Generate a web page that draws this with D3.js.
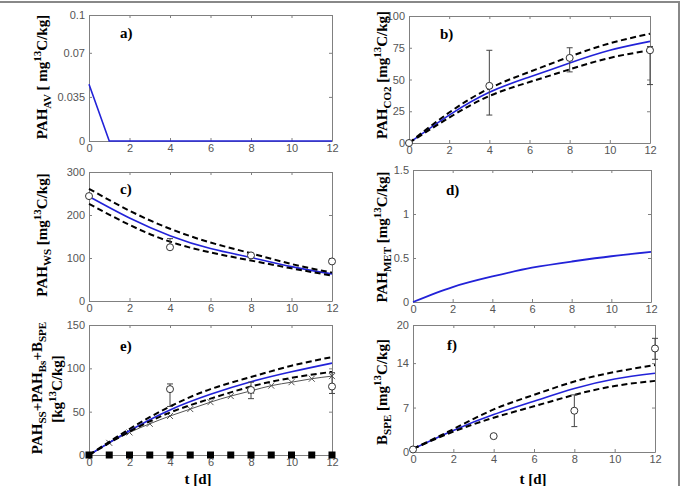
<!DOCTYPE html>
<html>
<head>
<meta charset="utf-8">
<script src="https://cdn.jsdelivr.net/npm/d3@7"></script>
<style>
  body { margin: 0; background: #fff; }
  svg { display: block; }
</style>
</head>
<body>
<script>
// model time grid (days)
const tModel = [0, 2, 4, 6, 8, 10, 12];
const tAll = [0, 1, 2, 3, 4, 5, 6, 7, 8, 9, 10, 11, 12];
const xTicks = [0, 2, 4, 6, 8, 10, 12];

// a) PAH_AV
const avT = [0, 1, 12];
const avFit = [0.045, 0, 0];

// b) PAH_CO2
const co2Fit = [0, 22, 40, 52, 63, 73, 80];
const co2Hi = [0, 24, 43, 56, 68, 78.5, 86];
const co2Lo = [0, 20, 37, 48, 58, 67, 73];
const co2ObsT = [0, 4, 8, 12];
const co2Obs = [0, 45, 67, 73];
const co2ObsLo = [0, 22, 56, 46];
const co2ObsHi = [0, 73, 75, 76];

// c) PAH_WS
const wsFit = [243, 193, 152, 122, 101, 80, 63];
const wsHi = [261, 210, 168, 136, 111, 86, 66];
const wsLo = [226, 177, 138, 113, 94, 76, 59];
const wsObsT = [0, 4, 8, 12];
const wsObs = [244, 125, 106, 92];
const wsObsLo = [244, 125, 106, 92];
const wsObsHi = [244, 145, 106, 92];

// d) PAH_MET
const metFit = [0, 0.17, 0.29, 0.39, 0.46, 0.52, 0.57];

// e) PAH_SS + PAH_Bs + B_SPE
const eFit = [0, 28, 52, 70, 84.5, 96, 106];
const eHi = [0, 30, 56, 76, 90, 103, 113];
const eLo = [0, 27, 49, 65, 79, 89, 96];
const eSim = [0, 14, 26, 36, 45, 53, 61, 68, 74, 80, 84, 88, 91];
const eObsT = [4, 8, 12];
const eObs = [76, 75, 79];
const eObsLo = [56, 65, 71];
const eObsHi = [82, 84, 95];
const eZero = [0, 0, 0, 0, 0, 0, 0, 0, 0, 0, 0, 0, 0];

// f) B_SPE
const fFit = [0.5, 3.4, 5.9, 8.0, 10.0, 11.5, 12.4];
const fHi = [0.5, 3.6, 6.7, 9.0, 11.1, 12.6, 13.7];
const fLo = [0.5, 3.2, 5.4, 7.2, 9.0, 10.4, 11.2];
const fObsT = [0, 4, 8, 12];
const fObs = [0.4, 2.5, 6.5, 16.3];
const fObsLo = [0.4, 2.5, 4.0, 14.6];
const fObsHi = [0.4, 2.5, 9.0, 17.9];

const W = 681, H = 486;
const BLUE = '#2222d8', AX = '#808080';
const serif = "'Liberation Serif', 'Times New Roman', serif";
const sans = "'Liberation Sans', Arial, sans-serif";

const svg = d3.select('body').append('svg').attr('width', W).attr('height', H);

// outer frame (top + right edge visible)
svg.append('line').attr('x1', 0).attr('x2', 680).attr('y1', 2).attr('y2', 2)
  .attr('stroke', '#888').attr('stroke-width', 2);
svg.append('line').attr('x1', 679).attr('x2', 679).attr('y1', 2).attr('y2', H)
  .attr('stroke', '#888').attr('stroke-width', 2);

function panel(box, yDomain, yTicks) {
  const x = d3.scaleLinear().domain([0, 12]).range([box.l, box.r]);
  const y = d3.scaleLinear().domain(yDomain).range([box.b, box.t]);
  const g = svg.append('g');

  const style = sel => {
    sel.selectAll('path').attr('stroke', AX);
    sel.selectAll('line').attr('stroke', AX);
    sel.selectAll('text').attr('fill', '#555').attr('font-family', sans).attr('font-size', 11);
  };
  g.append('g').attr('transform', `translate(0,${box.b})`)
    .call(d3.axisBottom(x).tickValues(xTicks).tickSizeInner(-3).tickSizeOuter(0).tickPadding(3))
    .call(style);
  g.append('g').attr('transform', `translate(0,${box.t})`)
    .call(d3.axisTop(x).tickValues(xTicks).tickSizeInner(-3).tickSizeOuter(0).tickFormat(''))
    .call(style);
  g.append('g').attr('transform', `translate(${box.l},0)`)
    .call(d3.axisLeft(y).tickValues(yTicks).tickSizeInner(-3).tickSizeOuter(0).tickPadding(4)
      .tickFormat(d => String(d)))
    .call(style);
  g.append('g').attr('transform', `translate(${box.r},0)`)
    .call(d3.axisRight(y).tickValues(yTicks).tickSizeInner(-3).tickSizeOuter(0).tickFormat(''))
    .call(style);
  return { g, x, y };
}

function curve(p, ts, vs, opts) {
  const line = d3.line().x(d => p.x(d[0])).y(d => p.y(d[1]))
    .curve(opts.straight ? d3.curveLinear : d3.curveNatural);
  p.g.append('path').datum(ts.map((t, i) => [t, vs[i]]))
    .attr('d', line).attr('fill', 'none')
    .attr('stroke', opts.color).attr('stroke-width', opts.width)
    .attr('stroke-dasharray', opts.dash || null);
}

function fitLines(p, fit, hi, lo) {
  curve(p, tModel, fit, { color: BLUE, width: 1.6 });
  curve(p, tModel, hi, { color: '#000', width: 2, dash: '6,3.5' });
  curve(p, tModel, lo, { color: '#000', width: 2, dash: '6,3.5' });
}

function obs(p, ts, vs, lo, hi) {
  const d = ts.map((t, i) => ({ t, v: vs[i], lo: lo[i], hi: hi[i] }));
  const eb = p.g.append('g').attr('stroke', '#444').attr('stroke-width', 1);
  d.filter(e => e.hi !== e.lo).forEach(e => {
    const cx = p.x(e.t);
    eb.append('line').attr('x1', cx).attr('x2', cx).attr('y1', p.y(e.lo)).attr('y2', p.y(e.hi));
    eb.append('line').attr('x1', cx - 3).attr('x2', cx + 3).attr('y1', p.y(e.lo)).attr('y2', p.y(e.lo));
    eb.append('line').attr('x1', cx - 3).attr('x2', cx + 3).attr('y1', p.y(e.hi)).attr('y2', p.y(e.hi));
  });
  p.g.append('g').selectAll('circle').data(d).join('circle')
    .attr('cx', e => p.x(e.t)).attr('cy', e => p.y(e.v)).attr('r', 3.5)
    .attr('fill', 'white').attr('stroke', '#333').attr('stroke-width', 1);
}

function tag(p, txt, x, y) {
  p.g.append('text').attr('x', x).attr('y', y).text(txt)
    .attr('font-family', serif).attr('font-weight', 'bold').attr('font-size', 15);
}

// parts: [text, 'n'|'sub'|'sup']
function ylabel(cx, cy, parts, size) {
  const t = svg.append('text')
    .attr('transform', `translate(${cx},${cy}) rotate(-90)`)
    .attr('text-anchor', 'middle')
    .attr('font-family', serif).attr('font-weight', 'bold').attr('font-size', size || 15);
  let shift = 0;
  parts.forEach(([s, k]) => {
    const target = k === 'sub' ? 4 : k === 'sup' ? -6 : 0;
    t.append('tspan').attr('dy', target - shift)
      .attr('font-size', k === 'n' ? null : 11).text(s);
    shift = target;
  });
}

// ---- a) ----
const pa = panel({ l: 89, r: 332, t: 15, b: 141 }, [0, 0.1], [0, 0.035, 0.07, 0.1]);
curve(pa, avT, avFit, { color: BLUE, width: 1.6, straight: true });
tag(pa, 'a)', 120, 38);
ylabel(47, 77, [['PAH', 'n'], ['AV', 'sub'], ['  [ mg', 'n'], ['13', 'sup'], ['C/kg]', 'n']]);

// ---- b) ----
const pb = panel({ l: 409, r: 650, t: 16, b: 143 }, [0, 100], [0, 25, 50, 75, 100]);
fitLines(pb, co2Fit, co2Hi, co2Lo);
obs(pb, co2ObsT, co2Obs, co2ObsLo, co2ObsHi);
tag(pb, 'b)', 440, 39);
ylabel(387, 75, [['PAH', 'n'], ['CO2', 'sub'], ['  [mg', 'n'], ['13', 'sup'], ['C/kg]', 'n']]);

// ---- c) ----
const pc = panel({ l: 89, r: 332, t: 172, b: 301 }, [0, 300], [0, 100, 200, 300]);
fitLines(pc, wsFit, wsHi, wsLo);
obs(pc, wsObsT, wsObs, wsObsLo, wsObsHi);
tag(pc, 'c)', 120, 194);
ylabel(47, 235, [['PAH', 'n'], ['WS', 'sub'], [' [mg', 'n'], ['13', 'sup'], ['C/kg]', 'n']]);

// ---- d) ----
const pd = panel({ l: 413, r: 651, t: 170, b: 302 }, [0, 1.5], [0, 0.5, 1, 1.5]);
curve(pd, tModel, metFit, { color: BLUE, width: 1.8 });
tag(pd, 'd)', 446, 195);
ylabel(387, 237, [['PAH', 'n'], ['MET', 'sub'], [' [mg', 'n'], ['13', 'sup'], ['C/kg]', 'n']]);

// ---- e) ----
const pe = panel({ l: 89, r: 332, t: 325, b: 455 }, [0, 150], [0, 50, 100, 150]);
curve(pe, tAll, eSim, { color: '#555', width: 1 });
pe.g.append('g').selectAll('path').data(tAll.map((t, i) => [t, eSim[i]])).join('path')
  .attr('d', d => {
    const cx = pe.x(d[0]), cy = pe.y(d[1]), s = 3;
    return `M${cx - s},${cy - s}L${cx + s},${cy + s}M${cx - s},${cy + s}L${cx + s},${cy - s}`;
  })
  .attr('stroke', '#555').attr('stroke-width', 1).attr('fill', 'none');
fitLines(pe, eFit, eHi, eLo);
obs(pe, eObsT, eObs, eObsLo, eObsHi);
pe.g.append('g').selectAll('rect').data(tAll.map((t, i) => [t, eZero[i]])).join('rect')
  .attr('x', d => pe.x(d[0]) - 3.5).attr('y', d => pe.y(d[1]) - 3.5)
  .attr('width', 7).attr('height', 7).attr('fill', '#000');
tag(pe, 'e)', 120, 351);
ylabel(42, 388, [['PAH', 'n'], ['SS', 'sub'], ['+PAH', 'n'], ['Bs', 'sub'], ['+B', 'n'], ['SPE', 'sub']]);
ylabel(62, 389, [['[kg', 'n'], ['13', 'sup'], ['C/kg]', 'n']]);
svg.append('text').attr('x', 198).attr('y', 484).attr('text-anchor', 'middle')
  .attr('font-family', serif).attr('font-weight', 'bold').attr('font-size', 15).text('t [d]');

// ---- f) ----
const pf = panel({ l: 413, r: 655, t: 325, b: 452 }, [0, 20], [0, 7, 14, 20]);
fitLines(pf, fFit, fHi, fLo);
obs(pf, fObsT, fObs, fObsLo, fObsHi);
tag(pf, 'f)', 447, 350);
ylabel(387, 392, [['B', 'n'], ['SPE', 'sub'], [' [mg', 'n'], ['13', 'sup'], ['C/kg]', 'n']]);
svg.append('text').attr('x', 533).attr('y', 484).attr('text-anchor', 'middle')
  .attr('font-family', serif).attr('font-weight', 'bold').attr('font-size', 15).text('t [d]');
</script>
</body>
</html>
